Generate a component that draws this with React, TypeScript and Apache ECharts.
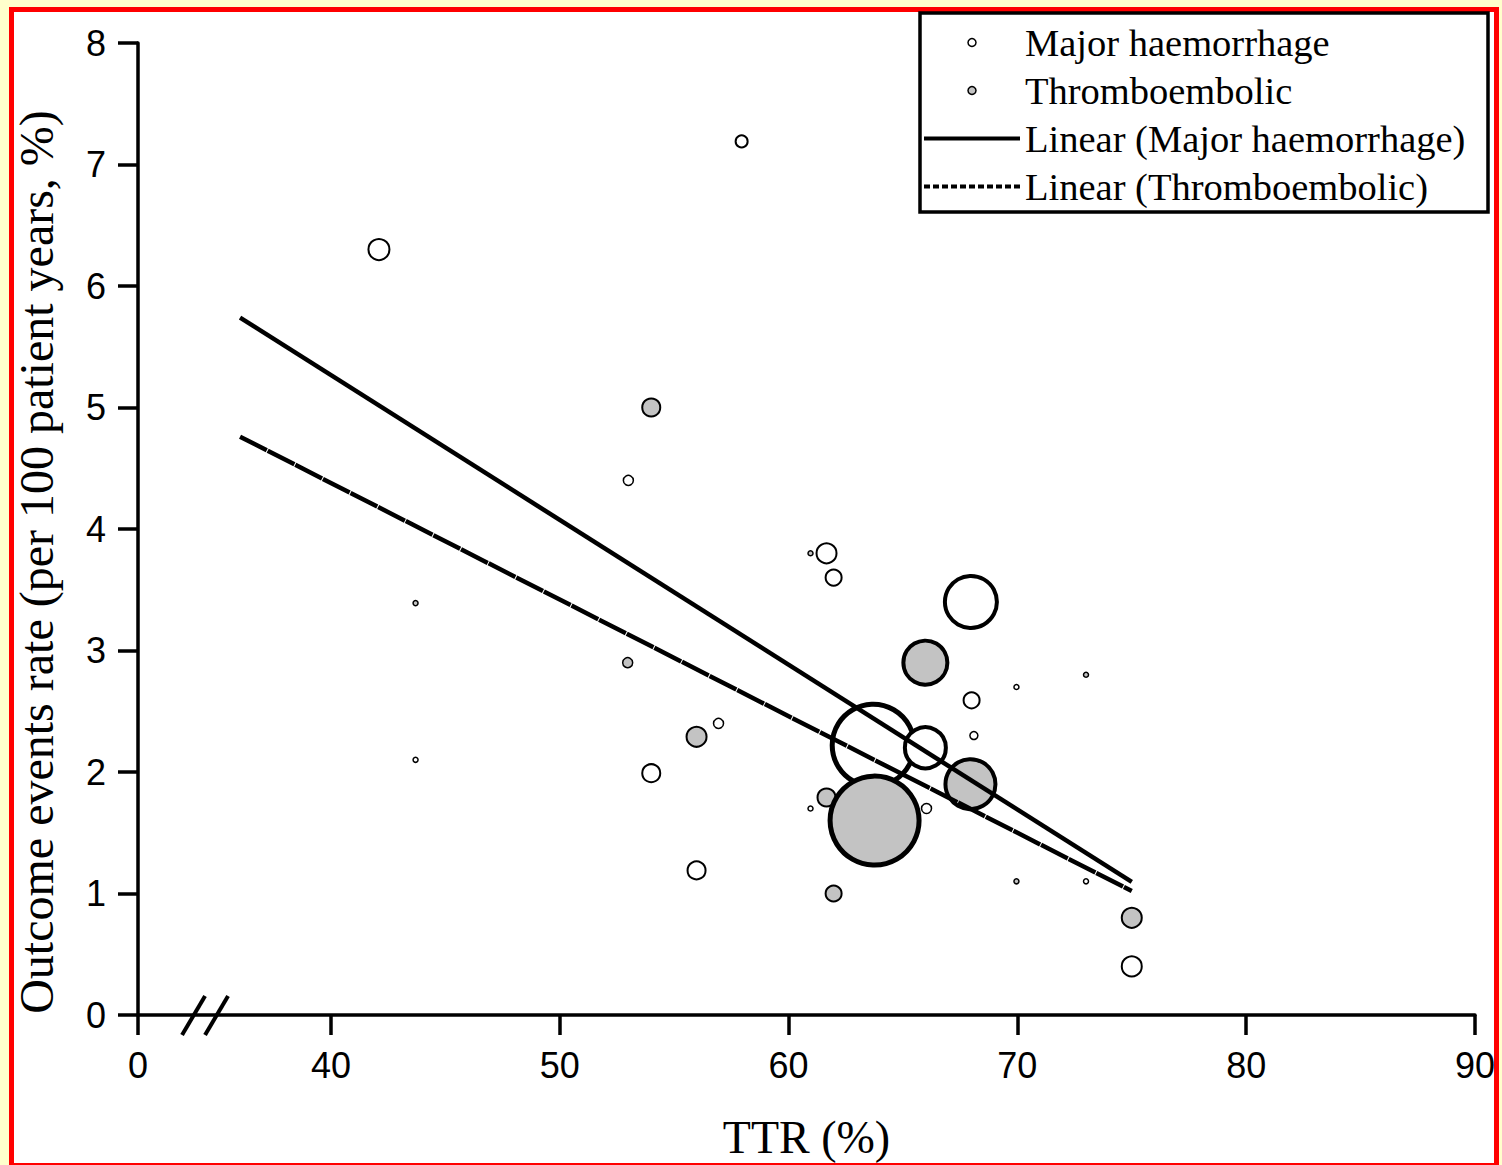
import React, { useEffect, useRef } from "react";
import * as echarts from "echarts";

// ---- data ----
const majorTTR = [42.1, 57.95, 53.0, 61.66, 61.97, 67.97, 68.0, 68.1, 56.94, 54.0, 55.98, 63.7, 65.98, 66.03, 75.0, 43.7, 69.96, 73.0, 60.96];
const majorRate = [6.3, 7.19, 4.4, 3.8, 3.6, 3.4, 2.59, 2.3, 2.4, 1.99, 1.19, 2.22, 2.2, 1.7, 0.4, 2.1, 2.7, 1.1, 1.7];
const majorWeight = [21, 12, 10, 20, 16, 52, 16, 8, 10, 18, 18, 82, 41, 10, 20, 5, 5, 5, 5];

const thromboTTR = [54.0, 52.97, 55.98, 65.98, 67.95, 61.66, 63.76, 61.97, 75.0, 43.7, 73.0, 69.96, 60.96];
const thromboRate = [5.0, 2.9, 2.29, 2.9, 1.9, 1.79, 1.6, 1.0, 0.8, 3.39, 2.8, 1.1, 3.8];
const thromboWeight = [18, 10, 20, 44, 50, 18, 89, 16, 20, 5, 5, 5, 5];

const trendTTR = [36.03, 75.0];
const majorTrend = [5.74, 1.095];
const thromboTrend = [4.76, 1.02];

const xTickLabels = [0, 40, 50, 60, 70, 80, 90];
const yMin = 0;
const yMax = 8;
const yStep = 1;

// axis break: the "0" tick sits this far (in TTR units) left of 40
const X_BREAK_POS = 31.57;

const GRAY = "#c3c3c3";

function borderFor(s: number) {
  if (s >= 80) return 5;
  if (s >= 40) return 4;
  if (s >= 12) return 2;
  return 1.5;
}

function bubbles(xs: number[], ys: number[], ws: number[]) {
  return xs.map((x, i) => ({
    value: [x, ys[i], ws[i]],
    itemStyle: { borderWidth: borderFor(ws[i]) },
  }));
}

export default function App() {
  const ref = useRef<HTMLDivElement>(null);

  useEffect(() => {
    document.body.style.margin = "0";
    if (!ref.current) return;
    const chart = echarts.init(ref.current, undefined, { renderer: "svg" });
    const xTickPos = xTickLabels.map((v) => (v === 0 ? X_BREAK_POS : v));
    const sans = "Liberation Sans";
    const serif = "Liberation Serif";

    const option: any = {
      animation: false,
      backgroundColor: "transparent",
      grid: { left: 138, right: 27, top: 43, bottom: 150, containLabel: false },
      xAxis: {
        type: "value",
        min: X_BREAK_POS,
        max: 90,
        splitLine: { show: false },
        axisLine: { show: true, onZero: false, lineStyle: { color: "#000", width: 3.5 } },
        axisTick: {
          show: true,
          inside: false,
          length: 20,
          customValues: xTickPos,
          lineStyle: { color: "#000", width: 3.5 },
        },
        axisLabel: {
          customValues: xTickPos,
          margin: 32,
          fontFamily: sans,
          fontSize: 36,
          color: "#000",
          formatter: (v: number) => (v < 40 ? "0" : String(Math.round(v))),
        },
        name: "TTR (%)",
        nameLocation: "middle",
        nameGap: 99,
        nameTextStyle: { fontFamily: serif, fontSize: 46, color: "#000" },
      },
      yAxis: {
        type: "value",
        min: yMin,
        max: yMax,
        interval: yStep,
        splitLine: { show: false },
        axisLine: { show: true, lineStyle: { color: "#000", width: 3.5 } },
        axisTick: { show: true, inside: false, length: 20, lineStyle: { color: "#000", width: 3.5 } },
        axisLabel: { margin: 32, fontFamily: sans, fontSize: 36, color: "#000" },
        name: "Outcome events rate (per 100 patient years, %)",
        nameLocation: "middle",
        nameGap: 78,
        nameTextStyle: { fontFamily: serif, fontSize: 48, color: "#000", padding: [0, 66, 0, 0] },
      },
      legend: {
        orient: "vertical",
        left: 922,
        top: 23,
        padding: 0,
        itemGap: 9,
        itemWidth: 96,
        itemHeight: 8,
        selectedMode: false,
        textStyle: { fontFamily: serif, fontSize: 38.5, color: "#000", lineHeight: 38 },
        data: [
          { name: "Major haemorrhage", icon: "circle", itemStyle: { color: "#fff", borderColor: "#000", borderWidth: 1.5 } },
          { name: "Thromboembolic", icon: "circle", itemStyle: { color: GRAY, borderColor: "#000", borderWidth: 1.5 } },
          { name: "Linear (Major haemorrhage)", itemStyle: { color: "#000", opacity: 0 }, lineStyle: { color: "#000", width: 4, type: "solid" } },
          { name: "Linear (Thromboembolic)", itemStyle: { color: "#000", opacity: 0 }, lineStyle: { color: "#000", width: 4, type: [6, 3] } },
        ],
      },
      series: [
        {
          name: "Major haemorrhage",
          type: "scatter",
          symbol: "circle",
          symbolSize: (val: number[]) => val[2],
          itemStyle: { color: "#fff", borderColor: "#000", borderWidth: 2, opacity: 1 },
          data: bubbles(majorTTR, majorRate, majorWeight),
          z: 2,
        },
        {
          name: "Thromboembolic",
          type: "scatter",
          symbol: "circle",
          symbolSize: (val: number[]) => val[2],
          itemStyle: { color: GRAY, borderColor: "#000", borderWidth: 2, opacity: 1 },
          data: bubbles(thromboTTR, thromboRate, thromboWeight),
          z: 3,
        },
        {
          name: "Linear (Major haemorrhage)",
          type: "line",
          symbol: "none",
          color: "#000",
          itemStyle: { color: "#000" },
          lineStyle: { color: "#000", width: 4.5, type: "solid" },
          data: trendTTR.map((x, i) => [x, majorTrend[i]]),
          z: 4,
        },
        {
          name: "Linear (Thromboembolic)",
          type: "line",
          symbol: "none",
          color: "#000",
          itemStyle: { color: "#000" },
          lineStyle: { color: "#000", width: 4.5, type: [30, 1] },
          data: trendTTR.map((x, i) => [x, thromboTrend[i]]),
          z: 4,
        },
      ],
    };
    chart.setOption(option);

    // decorations: axis-break slashes and legend frame
    const c = chart.convertToPixel({ xAxisIndex: 0, yAxisIndex: 0 } as any, [34.5, 0]) as number[];
    const cx = c[0];
    const cy = c[1];
    chart.setOption({
      graphic: [
        {
          type: "line",
          shape: { x1: cx - 23, y1: cy + 20, x2: cx, y2: cy - 19 },
          style: { stroke: "#000", lineWidth: 4 },
          z: 10,
        },
        {
          type: "line",
          shape: { x1: cx, y1: cy + 20, x2: cx + 23, y2: cy - 19 },
          style: { stroke: "#000", lineWidth: 4 },
          z: 10,
        },
        {
          type: "rect",
          shape: { x: 920, y: 13, width: 568, height: 199 },
          style: { fill: "none", stroke: "#000", lineWidth: 3.5 },
          z: 1,
        },
      ],
    });

    return () => chart.dispose();
  }, []);

  return (
    <div style={{ position: "absolute", left: 0, top: 0, width: 1502, height: 1165, background: "#FFFFCC", overflow: "hidden" }}>
      <div
        style={{
          position: "absolute",
          left: 9,
          top: 7,
          width: 1490,
          height: 1161,
          border: "5px solid #FF0000",
          boxSizing: "border-box",
          background: "#fff",
        }}
      />
      <div ref={ref} style={{ position: "absolute", left: 0, top: 0, width: 1502, height: 1165 }} />
    </div>
  );
}
